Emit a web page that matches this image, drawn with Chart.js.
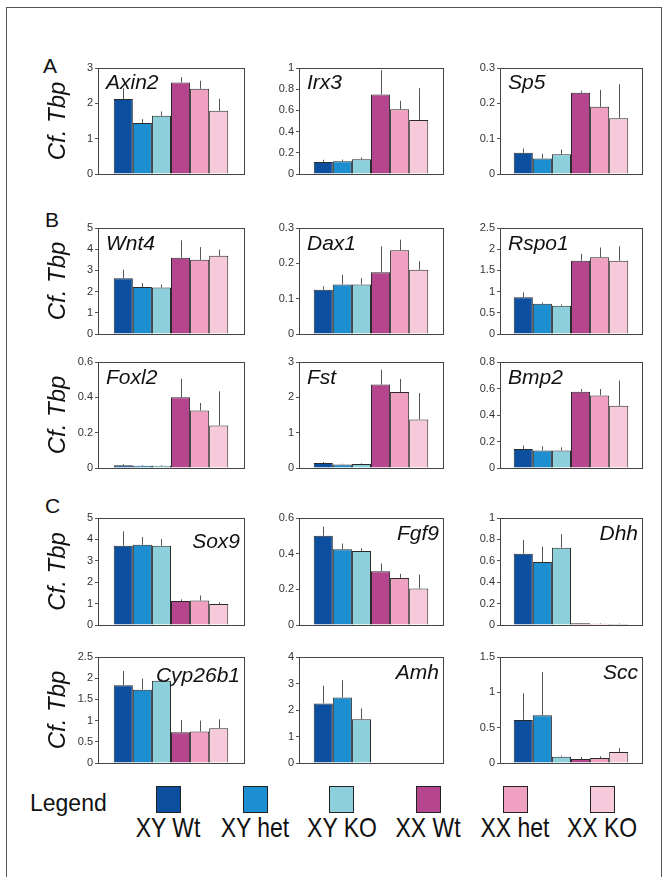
<!DOCTYPE html>
<html><head><meta charset="utf-8">
<script src="https://cdn.jsdelivr.net/npm/chart.js@4.4.1/dist/chart.umd.min.js"></script>
<style>
body{margin:0;background:#fff;width:664px;height:877px;overflow:hidden;position:relative;font-family:"Liberation Sans",Arial,Helvetica,sans-serif;color:#111;}
#frame{position:absolute;left:6px;top:7px;width:656px;height:900px;border:1px solid #555;box-sizing:border-box;}
canvas{position:absolute;}
.letter{position:absolute;font-size:21px;line-height:21px;}
.lgsq{position:absolute;width:25px;height:27px;box-sizing:border-box;border:1.5px solid #222;}
.lgtx{position:absolute;font-size:28px;line-height:28px;white-space:nowrap;transform:translateX(-50%) scaleX(0.82);transform-origin:50% 0;}
#lgword{position:absolute;left:30px;top:792px;font-size:23px;line-height:23px;}
</style></head><body>
<div id="frame"></div>
<div class="letter" style="left:43px;top:55px">A</div>
<div class="letter" style="left:45px;top:209px">B</div>
<div class="letter" style="left:45px;top:495px">C</div>
<div id="lgword">Legend</div>
<div id="legend"></div>
<script>
// ---- data ----
const genotypes = ['XY Wt', 'XY het', 'XY KO', 'XX Wt', 'XX het', 'XX KO'];
const genes = ['Axin2','Irx3','Sp5','Wnt4','Dax1','Rspo1','Foxl2','Fst','Bmp2','Sox9','Fgf9','Dhh','Cyp26b1','Amh','Scc'];

const axin2 = [2.12, 1.44, 1.65, 2.59, 2.41, 1.79];
const axin2Err = [0.31, 0.11, 0.12, 0.15, 0.23, 0.34];
const irx3 = [0.114, 0.12, 0.14, 0.75, 0.61, 0.51];
const irx3Err = [0.02, 0.016, 0.016, 0.23, 0.08, 0.30];
const sp5 = [0.06, 0.044, 0.056, 0.23, 0.19, 0.158];
const sp5Err = [0.012, 0.013, 0.013, 0.006, 0.048, 0.096];

const wnt4 = [2.63, 2.22, 2.19, 3.6, 3.5, 3.69];
const wnt4Err = [0.4, 0.18, 0.14, 0.82, 0.6, 0.29];
const dax1 = [0.125, 0.14, 0.14, 0.175, 0.237, 0.182];
const dax1Err = [0.01, 0.028, 0.018, 0.073, 0.03, 0.024];
const rspo1 = [0.865, 0.715, 0.668, 1.73, 1.81, 1.73];
const rspo1Err = [0.115, 0.032, 0.032, 0.16, 0.23, 0.34];
const foxl2 = [0.015, 0.013, 0.013, 0.40, 0.325, 0.24];
const foxl2Err = [0.006, 0.004, 0.004, 0.106, 0.043, 0.194];
const fst = [0.14, 0.10, 0.11, 2.36, 2.15, 1.37];
const fstErr = [0.03, 0.02, 0.02, 0.42, 0.37, 0.75];
const bmp2 = [0.143, 0.133, 0.133, 0.576, 0.548, 0.47];
const bmp2Err = [0.026, 0.031, 0.023, 0.02, 0.048, 0.19];

const sox9 = [3.70, 3.75, 3.70, 1.125, 1.14, 0.98];
const sox9Err = [0.675, 0.36, 0.32, 0.075, 0.235, 0.08];
const fgf9 = [0.5, 0.425, 0.415, 0.302, 0.264, 0.204];
const fgf9Err = [0.051, 0.032, 0.015, 0.043, 0.023, 0.079];
const dhh = [0.667, 0.588, 0.723, 0.016, 0.012, 0.01];
const dhhErr = [0.129, 0.145, 0.127, 0.004, 0.004, 0.004];
const cyp26b1 = [1.836, 1.73, 1.94, 0.727, 0.742, 0.82];
const cyp26b1Err = [0.334, 0.26, 0.04, 0.289, 0.258, 0.21];
const amh = [2.25, 2.475, 1.65, 0, 0, 0];
const amhErr = [0.66, 0.65, 0.41, 0, 0, 0];
const scc = [0.61, 0.676, 0.089, 0.056, 0.07, 0.155];
const sccErr = [0.376, 0.61, 0.014, 0.029, 0.024, 0.055];

const yMax  = [3, 1, 0.3, 5, 0.3, 2.5, 0.6, 3, 0.8, 5, 0.6, 1, 2.5, 4, 1.5];
const yStep = [1, 0.2, 0.1, 1, 0.1, 0.5, 0.2, 1, 0.2, 1, 0.2, 0.2, 0.5, 1, 0.5];
const yTitle = 'Cf. Tbp';

// ---- styles & layout ----
const colors = ['#0b4f9e', '#1d8fd0', '#8dd0dc', '#b5468e', '#f0a0c0', '#f6cadb'];
const values = [axin2, irx3, sp5, wnt4, dax1, rspo1, foxl2, fst, bmp2, sox9, fgf9, dhh, cyp26b1, amh, scc];
const errors = [axin2Err, irx3Err, sp5Err, wnt4Err, dax1Err, rspo1Err, foxl2Err, fstErr, bmp2Err, sox9Err, fgf9Err, dhhErr, cyp26b1Err, amhErr, sccErr];
const colX = [[98, 244], [299, 443], [500, 642]];
const rowY = [[68, 174], [228, 334], [362, 468], [518, 625], [657, 763]];
const labelDy = [21, 21, 21, 22, 22, 22, 22, 22, 22, 30, 22, 22, 25, 22, 22];
const legendX = [168, 255, 341.5, 428, 515, 602];

Chart.defaults.font.family = '"Liberation Sans", Arial, Helvetica, sans-serif';

const deco = {
  id: 'deco',
  afterDatasetsDraw(chart, args, opts) {
    const {ctx, chartArea: a} = chart;
    const ys = chart.scales.y;
    ctx.save();
    ctx.strokeStyle = '#555';
    ctx.lineWidth = 1;
    chart.data.datasets.forEach((ds, i) => {
      const meta = chart.getDatasetMeta(i);
      meta.data.forEach((bar, j) => {
        const v = ds.data[j], e = ds.errors[j];
        if (!e) return;
        const x = Math.round(bar.x) + 0.5;
        ctx.beginPath();
        ctx.moveTo(x, ys.getPixelForValue(v));
        ctx.lineTo(x, ys.getPixelForValue(v + e));
        ctx.stroke();
      });
    });
    ctx.strokeStyle = '#444';
    ctx.strokeRect(Math.round(a.left) + 0.5, Math.round(a.top) + 0.5, Math.round(a.right - a.left), Math.round(a.bottom - a.top));
    ctx.font = 'italic 21px "Liberation Sans", Arial, sans-serif';
    ctx.fillStyle = '#111';
    ctx.textBaseline = 'alphabetic';
    if (opts.align === 'right') {
      ctx.textAlign = 'right';
      ctx.fillText(opts.gene, a.right - 4, a.top + opts.dy);
    } else {
      ctx.textAlign = 'left';
      ctx.fillText(opts.gene, a.left + 8, a.top + opts.dy);
    }
    ctx.restore();
  }
};

genes.forEach((gene, k) => {
  let col, row;
  if (k < 3) { row = 0; col = k; }
  else { row = 1 + Math.floor((k - 3) / 3); col = (k - 3) % 3; }
  const [x0, x1] = colX[col];
  const [y0, y1] = rowY[row];
  const L = col === 0 ? 80 : 40, T = 10, B = 9, R = 4;
  const cv = document.createElement('canvas');
  cv.width = (x1 - x0) + L + R;
  cv.height = (y1 - y0) + T + B;
  cv.style.left = (x0 - L) + 'px';
  cv.style.top = (y0 - T) + 'px';
  document.body.appendChild(cv);
  const plotW = x1 - x0;
  new Chart(cv, {
    type: 'bar',
    data: {
      labels: [gene],
      datasets: genotypes.map((g, i) => ({
        label: g,
        data: [values[k][i]],
        errors: [errors[k][i]],
        backgroundColor: colors[i],
        borderColor: '#2a2a2a',
        borderWidth: 1,
        barPercentage: 1,
        categoryPercentage: 114.5 / plotW
      }))
    },
    options: {
      responsive: false,
      animation: false,
      devicePixelRatio: 1,
      layout: {padding: {top: T, bottom: B, right: R, left: 0}},
      plugins: {
        legend: {display: false},
        tooltip: {enabled: false},
        deco: {gene: gene, align: row >= 3 ? 'right' : 'left', dy: labelDy[k]}
      },
      scales: {
        x: {display: false},
        y: {
          min: 0, max: yMax[k],
          afterFit: s => { s.width = L; },
          ticks: {stepSize: yStep[k], color: '#333', padding: 2, font: {size: 11},
                  callback: v => String(+v.toFixed(2))},
          grid: {display: true, drawOnChartArea: false, drawTicks: true, tickLength: 3, color: '#555'},
          border: {display: false},
          title: {display: col === 0, text: yTitle, color: '#111',
                  font: {size: 24, style: 'italic'}, padding: {top: 26, bottom: 0}}
        }
      }
    },
    plugins: [deco]
  });
});

const lg = document.getElementById('legend');
genotypes.forEach((g, i) => {
  const sq = document.createElement('div');
  sq.className = 'lgsq';
  sq.style.left = (legendX[i] - 12.5) + 'px';
  sq.style.top = '786px';
  sq.style.background = colors[i];
  lg.appendChild(sq);
  const tx = document.createElement('div');
  tx.className = 'lgtx';
  tx.textContent = g;
  tx.style.left = legendX[i] + 'px';
  tx.style.top = '814px';
  lg.appendChild(tx);
});
</script>
</body></html>
